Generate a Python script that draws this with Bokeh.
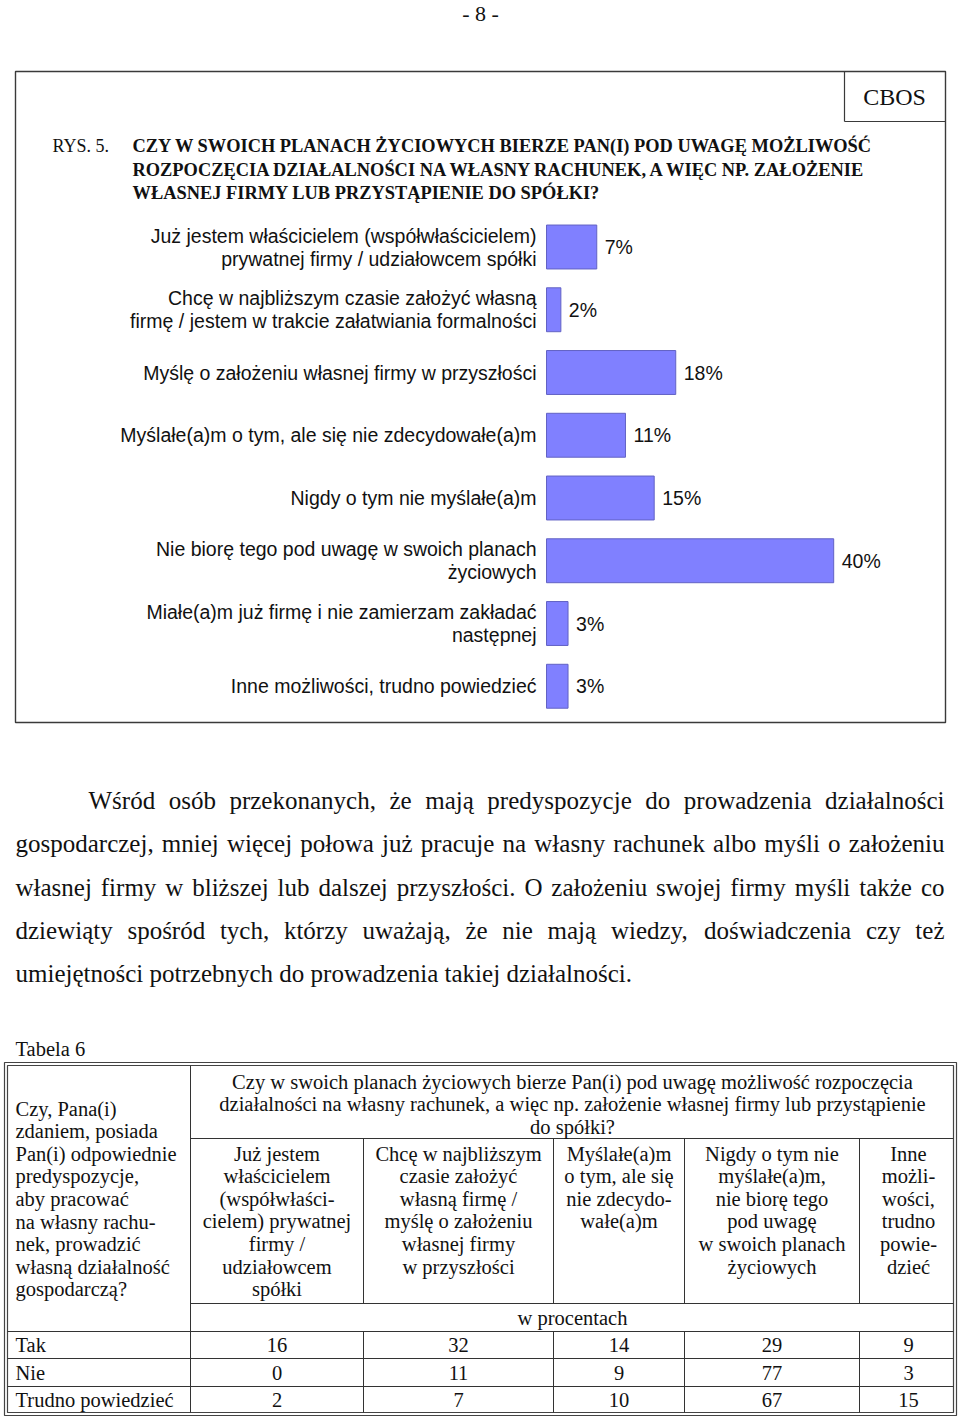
from bokeh.plotting import figure
from bokeh.models import Range1d, ColumnDataSource
from bokeh.core.properties import value
from bokeh.embed import file_html
from bokeh.resources import INLINE

# ---------------- data ----------------
categories = [
    "Już jestem właścicielem (współwłaścicielem)\nprywatnej firmy / udziałowcem spółki",
    "Chcę w najbliższym czasie założyć własną\nfirmę / jestem w trakcie załatwiania formalności",
    "Myślę o założeniu własnej firmy w przyszłości",
    "Myślałe(a)m o tym, ale się nie zdecydowałe(a)m",
    "Nigdy o tym nie myślałe(a)m",
    "Nie biorę tego pod uwagę w swoich planach\nżyciowych",
    "Miałe(a)m już firmę i nie zamierzam zakładać\nnastępnej",
    "Inne możliwości, trudno powiedzieć",
]
percentages = [7, 2, 18, 11, 15, 40, 3, 3]

page_number = "- 8 -"
brand = "CBOS"
figure_label = "RYS. 5."
figure_title = [
    "CZY W SWOICH PLANACH ŻYCIOWYCH BIERZE PAN(I) POD UWAGĘ MOŻLIWOŚĆ",
    "ROZPOCZĘCIA DZIAŁALNOŚCI NA WŁASNY RACHUNEK, A WIĘC NP. ZAŁOŻENIE",
    "WŁASNEJ FIRMY LUB PRZYSTĄPIENIE DO SPÓŁKI?",
]
paragraph = [
    "Wśród osób przekonanych, że mają predyspozycje do prowadzenia działalności",
    "gospodarczej, mniej więcej połowa już pracuje na własny rachunek albo myśli o założeniu",
    "własnej firmy w bliższej lub dalszej przyszłości. O założeniu swojej firmy myśli także co",
    "dziewiąty spośród tych, którzy uważają, że nie mają wiedzy, doświadczenia czy też",
    "umiejętności potrzebnych do prowadzenia takiej działalności.",
]

table_caption = "Tabela 6"
table_stub_header = ("Czy, Pana(i)\nzdaniem, posiada\nPan(i) odpowiednie\npredyspozycje,\n"
                     "aby pracować\nna własny rachu-\nnek, prowadzić\nwłasną działalność\ngospodarczą?")
table_question = ("Czy w swoich planach życiowych bierze Pan(i) pod uwagę możliwość rozpoczęcia\n"
                  "działalności na własny rachunek, a więc np. założenie własnej firmy lub przystąpienie\n"
                  "do spółki?")
table_columns = [
    "Już jestem\nwłaścicielem\n(współwłaści-\ncielem) prywatnej\nfirmy /\nudziałowcem\nspółki",
    "Chcę w najbliższym\nczasie założyć\nwłasną firmę /\nmyślę o założeniu\nwłasnej firmy\nw przyszłości",
    "Myślałe(a)m\no tym, ale się\nnie zdecydo-\nwałe(a)m",
    "Nigdy o tym nie\nmyślałe(a)m,\nnie biorę tego\npod uwagę\nw swoich planach\nżyciowych",
    "Inne\nmożli-\nwości,\ntrudno\npowie-\ndzieć",
]
table_unit = "w procentach"
table_rows = ["Tak", "Nie", "Trudno powiedzieć"]
values_tak = [16, 32, 14, 29, 9]
values_nie = [0, 11, 9, 77, 3]
values_trudno = [2, 7, 10, 67, 15]
table_values = [values_tak, values_nie, values_trudno]

# ---------------- layout constants ----------------
W, H = 960, 1420
SERIF = "Liberation Serif"
SANS = "Liberation Sans"
INK = "#111111"
BAR_FILL = "#8080ff"
BAR_LINE = "#6262c4"
FRAME = "#3a3a3a"

p = figure(width=W, height=H, x_range=Range1d(0, W), y_range=Range1d(H, 0),
           output_backend="svg", toolbar_location=None,
           x_axis_type=None, y_axis_type=None, min_border=0)
p.grid.visible = False
p.outline_line_color = None
p.background_fill_color = "white"
p.border_fill_color = "white"

# chart scales (percent axis and category axis) mapped into the chart box
BAR_ORIGIN, PX_PER_PCT = 546.0, 7.18
CAT0, CAT_STEP = 246.5, 62.75
p.extra_x_ranges = {"pct": Range1d((0 - BAR_ORIGIN) / PX_PER_PCT, (W - BAR_ORIGIN) / PX_PER_PCT)}
p.extra_y_ranges = {"cat": Range1d((H - CAT0) / CAT_STEP, (0 - CAT0) / CAT_STEP)}


def txt(xs, ys, texts, size, font=SERIF, align="left", baseline="middle", style="normal", **kw):
    p.text(x=xs, y=ys, text=texts, text_font=value(font), text_font_size=f"{size}px",
           text_align=align, text_baseline=baseline, text_font_style=style,
           text_color=INK, **kw)


def block(text, x, y_first, spacing):
    lines = text.split("\n")
    return [x] * len(lines), [y_first + k * spacing for k in range(len(lines))], lines


# ---------------- page header ----------------
txt([480], [13], [page_number], 22, align="center")

# chart box
p.quad(left=[15], right=[945], top=[71], bottom=[722], fill_color=None,
       line_color=FRAME, line_width=1.4)
p.segment(x0=[844, 844], y0=[71, 121], x1=[844, 945], y1=[121, 121],
          line_color=FRAME, line_width=1.2)
txt([894], [96], [brand], 24, align="center")

# title
txt([52], [145], [figure_label], 18)
txt([132] * len(figure_title), [145, 169, 192][:len(figure_title)], figure_title, 18.4, style="bold")

# ---------------- bar chart ----------------
idx = list(range(len(categories)))
p.hbar(y=idx, left=0, right=percentages, height=0.70,
       x_range_name="pct", y_range_name="cat",
       fill_color=BAR_FILL, line_color=BAR_LINE, line_width=1)

lx, ly, lt, loff = [], [], [], []
for i, c in enumerate(categories):
    parts = c.split("\n")
    n = len(parts)
    for k, part in enumerate(parts):
        lx.append(0)
        ly.append(i)
        lt.append(part)
        loff.append((k - (n - 1) / 2) * 23)
src_lab = ColumnDataSource(dict(x=lx, y=ly, t=lt, off=loff))
p.text(x="x", y="y", text="t", source=src_lab, x_offset=-10, y_offset="off",
       x_range_name="pct", y_range_name="cat",
       text_font=value(SANS), text_font_size="19.5px", text_align="right",
       text_baseline="middle", text_color=INK)

src_val = ColumnDataSource(dict(x=percentages, y=idx, t=[f"{v}%" for v in percentages]))
p.text(x="x", y="y", text="t", source=src_val, x_offset=8,
       x_range_name="pct", y_range_name="cat",
       text_font=value(SANS), text_font_size="19.5px", text_align="left",
       text_baseline="middle", text_color=INK)

# ---------------- justified paragraph ----------------
TNR = {" ": 250, ",": 250, ".": 250, "?": 444, "(": 333, ")": 333, "/": 278, "-": 333,
       "a": 444, "b": 500, "c": 444, "d": 500, "e": 444, "f": 333, "g": 500, "h": 500,
       "i": 278, "j": 278, "k": 500, "l": 278, "m": 778, "n": 500, "o": 500, "p": 500,
       "q": 500, "r": 333, "s": 389, "t": 278, "u": 500, "v": 500, "w": 722, "x": 500,
       "y": 500, "z": 444, "ą": 444, "ć": 444, "ę": 444, "ł": 278, "ń": 500, "ó": 500,
       "ś": 389, "ź": 444, "ż": 444, "W": 944, "O": 722}


def tw(s, size):
    return sum(TNR.get(ch, 500) for ch in s) / 1000.0 * size


PSIZE = 25
par_x0 = [88, 15, 15, 15, 15]
par_y = [800, 843, 887, 930, 973]
wx, wy, wt = [], [], []
for li, line in enumerate(paragraph):
    words = line.split(" ")
    x0, x1 = par_x0[li], 944
    if li == len(paragraph) - 1:
        gap = tw(" ", PSIZE)
    else:
        gap = (x1 - x0 - sum(tw(w, PSIZE) for w in words)) / (len(words) - 1)
    x = x0
    for w in words:
        wx.append(x)
        wy.append(par_y[li])
        wt.append(w)
        x += tw(w, PSIZE) + gap
txt(wx, wy, wt, PSIZE)

# ---------------- table ----------------
TS = 20.5
LS = 22.6
txt([15], [1048], [table_caption], TS)

# double outer border
p.quad(left=[4, 7], right=[956, 953], top=[1062, 1065], bottom=[1415, 1412],
       fill_color=None, line_color="#444444", line_width=1.2)

col_edges = [190, 363, 553, 684, 859, 953]
col_centers = [(col_edges[k] + col_edges[k + 1]) / 2 for k in range(5)]
col_centers[-1] = 908
hx0, hy0, hx1, hy1 = [], [], [], []
for yy, xa in [(1138, 190), (1303, 190), (1331, 7), (1358, 7), (1386, 7)]:
    hx0.append(xa); hx1.append(953); hy0.append(yy); hy1.append(yy)
hx0.append(190); hx1.append(190); hy0.append(1065); hy1.append(1412)
for xe in col_edges[1:-1]:
    for ya, yb in [(1138, 1303), (1331, 1412)]:
        hx0.append(xe); hx1.append(xe); hy0.append(ya); hy1.append(yb)
p.segment(x0=hx0, y0=hy0, x1=hx1, y1=hy1, line_color="#333333", line_width=1)

# header texts
bx, by, bt = block(table_stub_header, 15, 1108, LS)
txt(bx, by, bt, TS)
bx, by, bt = block(table_question, 572, 1081, LS)
txt(bx, by, bt, TS, align="center")
for k, colname in enumerate(table_columns):
    bx, by, bt = block(colname, col_centers[k], 1153, LS)
    txt(bx, by, bt, TS, align="center")
txt([572], [1317], [table_unit], TS, align="center")

row_y = [1344.5, 1372, 1399.5]
txt([15] * 3, row_y, table_rows, TS)
vx, vy, vt = [], [], []
for r, vals in enumerate(table_values):
    for k, v in enumerate(vals):
        vx.append(col_centers[k]); vy.append(row_y[r]); vt.append(str(v))
txt(vx, vy, vt, TS, align="center")

open("out.html", "w").write(file_html(p, INLINE))
